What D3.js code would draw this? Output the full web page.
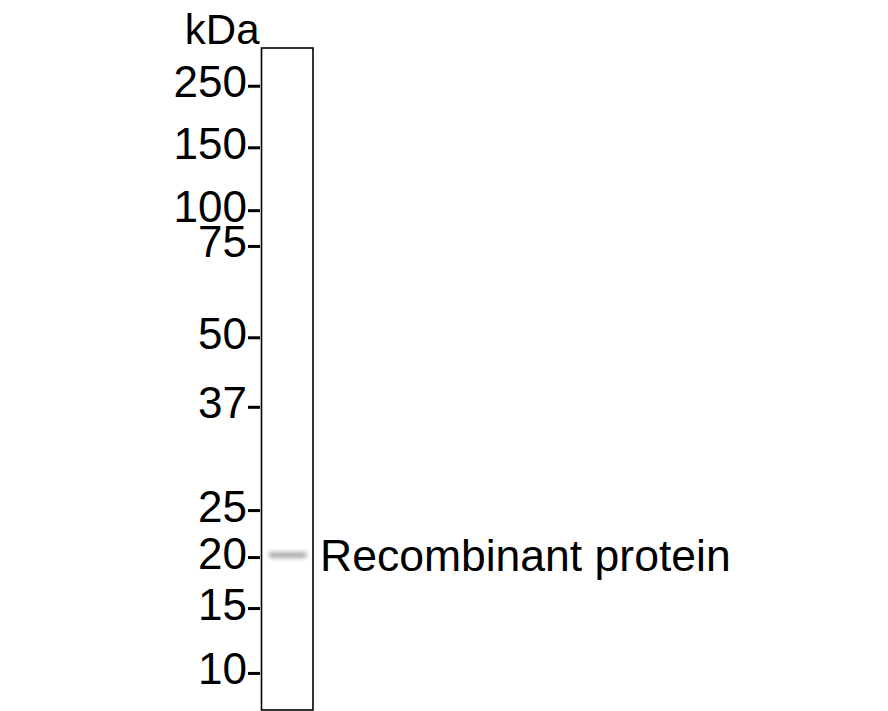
<!DOCTYPE html>
<html>
<head>
<meta charset="utf-8">
<script src="https://cdn.jsdelivr.net/npm/d3@7"></script>
<style>
  body { margin: 0; background: #fff; }
  text { font-family: "Liberation Sans", Arial, sans-serif; }
</style>
</head>
<body>
<div id="wrapper"></div>
<script>
// marker ladder (kDa) and relative migration in the lane (0 = top, 1 = bottom)
const markers = [250, 150, 100, 75, 50, 37, 25, 20, 15, 10]
const markerRf = [0.057, 0.150, 0.245, 0.299, 0.437, 0.542, 0.698, 0.769, 0.846, 0.944]

// detected bands
const bandNames = ["Recombinant protein"]
const bandRf = [0.766]
const bandIntensity = [0.33]

function drawBlot() {

    // 1. dims
    let dims = {
        width: 888,
        height: 711,
        lane: { left: 261.5, right: 313, top: 48, bottom: 710 },
    }

    // 2. canvas
    const wrapper = d3.select("#wrapper")
        .append("svg")
        .attr("width", dims.width)
        .attr("height", dims.height)

    const defs = wrapper.append("defs")
    defs.append("filter")
        .attr("id", "blur")
        .attr("x", "-30%").attr("y", "-200%")
        .attr("width", "160%").attr("height", "500%")
        .append("feGaussianBlur")
        .attr("stdDeviation", "2.2 2")

    // 3. scales
    const yScale = d3.scaleLinear()
        .domain([0, 1])
        .range([dims.lane.top, dims.lane.bottom])

    const markerY = d3.scaleOrdinal()
        .domain(markers)
        .range(markerRf.map(yScale))

    const shade = d3.scaleLinear()
        .domain([0, 1])
        .range(["#ffffff", "#000000"])

    // 4. lane + bands
    const laneW = dims.lane.right - dims.lane.left

    wrapper.selectAll(".band")
        .data(bandRf)
        .join("rect")
        .attr("class", "band")
        .attr("x", dims.lane.left + 7)
        .attr("width", laneW - 13)
        .attr("y", d => yScale(d) - 3)
        .attr("height", 6)
        .attr("rx", 3)
        .attr("fill", (d, i) => shade(bandIntensity[i]))
        .attr("filter", "url(#blur)")

    wrapper.append("rect")
        .attr("x", dims.lane.left)
        .attr("y", dims.lane.top)
        .attr("width", laneW)
        .attr("height", dims.lane.bottom - dims.lane.top)
        .attr("fill", "none")
        .attr("stroke", "#000")
        .attr("stroke-width", 1.6)

    // 5. marker axis
    const yAxisGenerator = d3.axisLeft()
        .scale(markerY)
        .tickSize(12)
        .tickPadding(1)

    const yAxis = wrapper.append("g")
        .attr("transform", `translate(${dims.lane.left - 1.5},0)`)
        .call(yAxisGenerator)

    yAxis.select(".domain").remove()
    yAxis.selectAll(".tick line")
        .attr("stroke", "#000")
        .attr("stroke-width", 3)
    yAxis.selectAll(".tick text")
        .attr("dy", "0.25em")
        .style("font-size", "44px")
        .attr("fill", "#000")

    wrapper.append("text")
        .attr("x", dims.lane.left - 2)
        .attr("y", 44)
        .style("text-anchor", "end")
        .style("font-size", "42px")
        .attr("fill", "#000")
        .text("kDa")

    // 6. band labels
    wrapper.selectAll(".band-label")
        .data(bandNames)
        .join("text")
        .attr("class", "band-label")
        .attr("x", dims.lane.right + 7)
        .attr("y", (d, i) => yScale(bandRf[i]))
        .attr("dy", "0.35em")
        .style("font-size", "44.5px")
        .attr("fill", "#000")
        .text(d => d)
}

drawBlot()
</script>
</body>
</html>
